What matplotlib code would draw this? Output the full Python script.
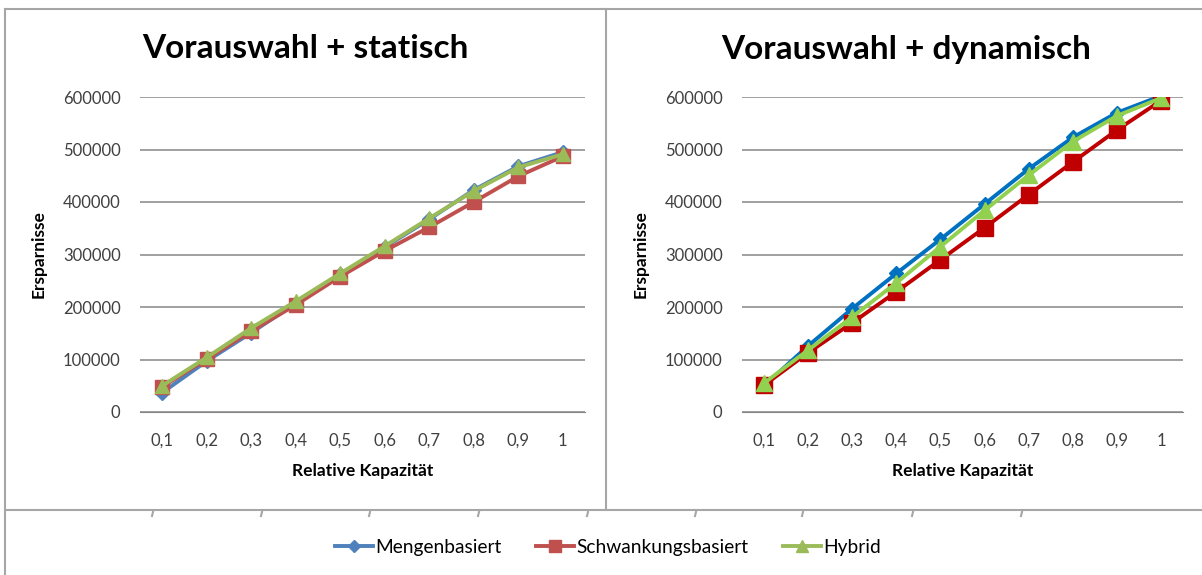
import numpy as np
import matplotlib.pyplot as plt
from matplotlib.lines import Line2D

plt.rcParams['font.family'] = ['Lato', 'DejaVu Sans']

kapazitaet = ['0,1', '0,2', '0,3', '0,4', '0,5', '0,6', '0,7', '0,8', '0,9', '1']
serien = ['Mengenbasiert', 'Schwankungsbasiert', 'Hybrid']

# Vorauswahl + statisch
stat_menge = [37000, 97000, 151000, 207000, 262000, 314000, 367000, 423000, 468000, 495000]
stat_schwank = [48000, 101000, 154000, 204000, 258000, 307000, 352000, 400000, 449000, 487000]
stat_hybrid = [50000, 104000, 160000, 211000, 264000, 316000, 369000, 421000, 466000, 491000]

# Vorauswahl + dynamisch
dyn_menge = [50000, 126000, 197000, 264000, 329000, 396000, 463000, 523000, 570000, 602000]
dyn_schwank = [51000, 113000, 170000, 229000, 290000, 351000, 414000, 476000, 537000, 593000]
dyn_hybrid = [55000, 118000, 181000, 246000, 315000, 384000, 451000, 515000, 564000, 598000]

W, H = 1202, 575
fig = plt.figure(figsize=(W / 100, H / 100), dpi=100)

def px_axes(x0, x1, ytop, ybot):
    return fig.add_axes([x0 / W, 1 - ybot / H, (x1 - x0) / W, (ybot - ytop) / H])

def chart(ax, title, title_x, daten, farben, ms):
    x = np.arange(len(kapazitaet))
    mk = ['D', 's', '^']
    for werte, name, c, m, s in zip(daten, serien, farben, mk, ms):
        ax.plot(x, werte, color=c, lw=2.8, marker=m, ms=s, label=name,
                markeredgecolor=c)
    ax.set_xlim(-0.5, len(kapazitaet) - 0.5)
    ax.set_ylim(0, 600000)
    ax.set_yticks(range(0, 600001, 100000))
    ax.set_yticklabels([str(v) for v in range(0, 600001, 100000)])
    ax.set_xticks(x)
    ax.set_xticklabels(kapazitaet)
    ax.grid(axis='y', color='#868686', lw=1.1)
    ax.set_axisbelow(True)
    for s in ['top', 'right', 'left']:
        ax.spines[s].set_visible(False)
    ax.spines['bottom'].set_color('#868686')
    ax.tick_params(length=0, labelsize=12, colors='#404040', pad=14)
    ax.tick_params(axis='x', pad=15)
    ax.set_xlabel('Relative Kapazität', fontsize=12.5, fontweight='bold', labelpad=10)
    ax.set_ylabel('Ersparnisse', fontsize=12.5, fontweight='bold', labelpad=12)
    # Titel über dem ganzen Feld zentriert, nicht nur über der Achse
    fig.text(title_x / W, 1 - 49 / H, title, fontsize=24, fontweight='bold',
             ha='center', va='center')

ax1 = px_axes(140, 585, 97, 412)
chart(ax1, 'Vorauswahl + statisch', 305, [stat_menge, stat_schwank, stat_hybrid],
      ['#4F81BD', '#C0504D', '#9BBB59'], [7, 10, 10])

ax2 = px_axes(742, 1183, 97, 412)
chart(ax2, 'Vorauswahl + dynamisch', 906, [dyn_menge, dyn_schwank, dyn_hybrid],
      ['#0070C0', '#C00000', '#92D050'], [7, 11, 11])

# Rahmen um die Diagramme
rahmen = '#A6A6A6'
def fl(xs, ys):
    fig.add_artist(Line2D([x / W for x in xs], [1 - y / H for y in ys],
                          color=rahmen, lw=1.5))

fl([5, 1202], [9, 9])
fl([5, 5], [9, 575])
fl([606, 606], [9, 510])
fl([5, 1202], [510, 510])
for tx in [153, 262, 370, 479, 588, 696, 803, 913, 1022]:
    fl([tx, tx - 1], [512, 516])

# Legende
handles = [Line2D([], [], color=c, lw=2.8, marker=m, ms=s, markeredgecolor=c)
           for c, m, s in zip(['#4F81BD', '#C0504D', '#9BBB59'], ['D', 's', '^'], [6, 9, 8])]
fig.legend(handles, serien, loc='center', bbox_to_anchor=(608 / W, 1 - 547 / H),
           ncol=3, frameon=False, fontsize=13.8, handlelength=2.0, handletextpad=0.1,
           columnspacing=1.8)

fig.savefig('out.png', dpi=100)
